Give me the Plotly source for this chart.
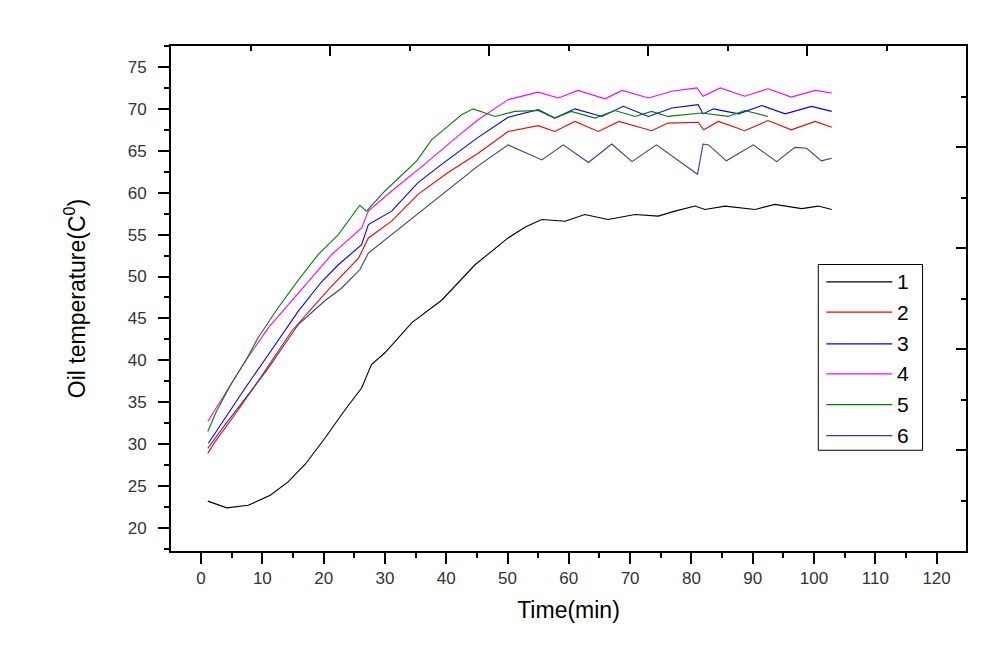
import plotly.graph_objects as go

# ---- data ----
t1 = [1.1, 4.2, 7.7, 11.3, 14.2, 17, 20.2, 23.5, 26.2, 27.8, 30, 34.4, 39.3, 44.7, 50.1, 52.9, 55.6,
      59.4, 62.6, 66.4, 70.8, 74.6, 77.3, 80.6, 82.2, 85.5, 90.4, 93.6, 98, 100.7, 102.9]
s1 = [23.2, 22.4, 22.7, 23.9, 25.5, 27.6, 30.7, 34.1, 36.7, 39.5, 40.9, 44.5, 47.2, 51.4, 54.6, 55.9, 56.8,
      56.6, 57.4, 56.8, 57.4, 57.2, 57.8, 58.4, 58.0, 58.4, 58.0, 58.6, 58.1, 58.4, 58.0]

t2 = [1.1, 2.3, 5.5, 9.3, 14.8, 19.1, 21, 25.7, 27.3, 31.1, 35.4, 40.3, 45.2, 50.1, 55, 57.7, 61, 64.8,
      68.2, 73.5, 76.2, 81.1, 82, 84.4, 88.7, 92.5, 96.3, 100.2, 102.9]
s2 = [28.9, 30.3, 33.5, 37.5, 43.5, 47.1, 48.6, 52.2, 54.6, 56.6, 59.8, 62.4, 64.7, 67.3, 68.0, 67.3, 68.5, 67.3,
      68.5, 67.4, 68.3, 68.4, 67.5, 68.5, 67.4, 68.6, 67.5, 68.5, 67.8]

t3 = [1.2, 3.9, 7.2, 11, 15.9, 19.7, 22.4, 26.2, 27.3, 31.1, 35.4, 39.3, 45.2, 50.1, 55, 57.7, 61, 65.4,
      68.9, 73, 76.8, 81.1, 81.9, 83.6, 87.7, 91.5, 95.3, 99.6, 102.9]
s3 = [30.1, 33.1, 36.7, 40.7, 45.9, 49.4, 51.4, 53.8, 56.2, 57.8, 61.2, 63.4, 66.6, 69.0, 69.9, 68.9, 70.0, 69.1,
      70.3, 69.1, 70.1, 70.5, 69.4, 70.0, 69.4, 70.4, 69.4, 70.3, 69.7]

t4 = [1.1, 4.5, 7.4, 11, 15.9, 21.3, 26.2, 27.3, 31.1, 36.5, 42, 45.2, 50.1, 55, 58.3, 61.5, 65.9,
      68.7, 73, 76.8, 80.9, 81.9, 84.7, 88.7, 92.5, 96.3, 100.2, 102.9]
s4 = [32.7, 36.7, 40.1, 43.9, 48.0, 52.6, 55.8, 57.8, 60.2, 63.4, 66.8, 68.7, 71.1, 72.0, 71.3, 72.2, 71.2,
      72.2, 71.3, 72.1, 72.5, 71.5, 72.5, 71.5, 72.4, 71.4, 72.2, 71.9]

t5 = [1.1, 2.5, 5, 7.4, 9.3, 12.6, 15.9, 19.1, 22.4, 25.9, 27, 30, 35.2, 37.6, 40.4, 42.5, 44.4, 48,
      51.2, 55, 57.7, 60.4, 64.3, 67.5, 70.8, 73.5, 76.2, 81.7, 86, 88.7, 92.5]
s5 = [31.5, 33.9, 37.3, 40.1, 42.7, 46.3, 49.6, 52.6, 55.0, 58.5, 57.8, 60.2, 63.8, 66.3, 68.0, 69.3, 70.0, 69.1,
      69.7, 69.8, 68.9, 69.7, 68.9, 69.8, 69.1, 69.7, 69.1, 69.5, 69.1, 69.8, 69.1]

t6 = [1.1, 3.9, 7.7, 11, 15.9, 20.2, 22.9, 25.9, 27.3, 31.1, 36.5, 42, 45.2, 50.1, 55.6, 59.1, 63.2, 67,
      70.3, 74.3, 81, 81.9, 82.8, 85.7, 90.1, 93.9, 96.9, 98.8, 101.2, 102.9]
s6 = [29.5, 32.3, 35.9, 39.1, 44.3, 47.1, 48.6, 50.8, 52.8, 55.0, 58.2, 61.4, 63.2, 65.7, 63.9, 65.7, 63.6, 65.8,
      63.7, 65.7, 62.2, 65.8, 65.7, 63.8, 65.7, 63.7, 65.4, 65.3, 63.8, 64.1]

names = ["1", "2", "3", "4", "5", "6"]
times = [t1, t2, t3, t4, t5, t6]
temps = [s1, s2, s3, s4, s5, s6]
colors = ["#000000", "#FF0000", "#0000FF", "#FF00FF", "#008000", "#3A3A90"]

FONT = "Liberation Sans, Arial, sans-serif"

fig = go.Figure()
for n, tx, ty, c in zip(names, times, temps, colors):
    fig.add_trace(go.Scatter(x=tx, y=ty, mode="lines", name=n,
                             line=dict(color=c, width=1.1), showlegend=False))

# empty trace to host the mirrored top/right tick axes
fig.add_trace(go.Scatter(x=[], y=[], xaxis="x2", yaxis="y2", showlegend=False, hoverinfo="skip"))

# ---- custom legend (box, line samples, labels) ----
L, R, T, B = 0.8142, 0.9454, 0.5673, 0.1995
fig.add_shape(type="rect", xref="paper", yref="paper", x0=L, x1=R, y0=B, y1=T,
              line=dict(color="black", width=1), fillcolor="white", layer="above")
row_y = [0.533, 0.473, 0.410, 0.3507, 0.2899, 0.2285]
for n, c, ry in zip(names, colors, row_y):
    fig.add_shape(type="line", xref="paper", yref="paper", x0=0.8243, x1=0.9073, y0=ry, y1=ry,
                  line=dict(color=c, width=1.2), layer="above")
    fig.add_annotation(xref="paper", yref="paper", x=0.911, y=ry, text=n, showarrow=False,
                       xanchor="left", yanchor="middle", font=dict(family=FONT, size=21, color="black"))

axis_common = dict(showgrid=False, zeroline=False, showline=True, linecolor="black", linewidth=2,
                   mirror=True, ticks="outside", tickwidth=2, ticklen=11, tickcolor="black")

fig.update_layout(
    width=990, height=647,
    margin=dict(l=163, r=32, t=38, b=104),
    paper_bgcolor="white", plot_bgcolor="white",
    font=dict(family=FONT, color="#222222"),
    xaxis=dict(range=[-4.9, 124.8], tick0=0, dtick=10,
               tickfont=dict(size=17, color="#333333"),
               minor=dict(dtick=5, tick0=0, ticks="outside", ticklen=5, tickwidth=2, tickcolor="black"),
               title=dict(text="Time(min)", font=dict(size=23, color="black"), standoff=14),
               **axis_common),
    yaxis=dict(range=[17.25, 77.5], tick0=0, dtick=5,
               tickfont=dict(size=17, color="#333333"),
               minor=dict(dtick=2.5, tick0=0, ticks="outside", ticklen=5, tickwidth=2, tickcolor="black"),
               title=dict(text="Oil temperature(C<sup>0</sup>)", font=dict(size=23, color="black"), standoff=36),
               ticklabelstandoff=8,
               **axis_common),
    xaxis2=dict(range=[0, 5], overlaying="x", side="top", anchor="y2", showgrid=False, zeroline=False,
                showline=False, showticklabels=False, ticks="inside", ticklen=10, tickwidth=2,
                tickcolor="black", dtick=1, tick0=0,
                minor=dict(dtick=0.5, tick0=0, ticks="inside", ticklen=5, tickwidth=2, tickcolor="black")),
    yaxis2=dict(range=[0, 5], overlaying="y", side="right", anchor="x2", showgrid=False, zeroline=False,
                showline=False, showticklabels=False, ticks="inside", ticklen=10, tickwidth=2,
                tickcolor="black", dtick=1, tick0=0,
                minor=dict(dtick=0.5, tick0=0, ticks="inside", ticklen=5, tickwidth=2, tickcolor="black")),
)

fig.write_html("out.html")
